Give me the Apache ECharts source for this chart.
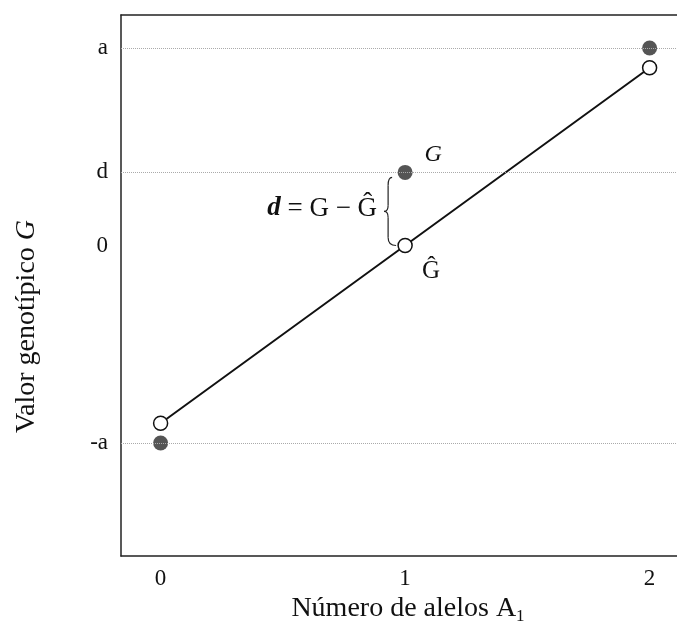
<!DOCTYPE html>
<html>
<head>
<meta charset="utf-8">
<script src="https://cdn.jsdelivr.net/npm/echarts@6/dist/echarts.min.js"></script>
<style>
  html, body { margin: 0; padding: 0; background: #fff; }
  #main { width: 677px; height: 622px; }
</style>
</head>
<body>
<div id="main"></div>
<script>
// valores en unidades de a (a = 1)
var xTicks = [0, 1, 2];
var yTickValues = [1, 0.37, 0, -1];
var yTickLabels = ['a', 'd', '0', '-a'];
var refLines = [1, 0.37, -1];
// valor genotípico G (puntos llenos)
var valorG = [[0, -1], [1, 0.37], [2, 1]];
// valor predicho G^ (puntos vacíos, recta de regresión)
var valorGhat = [[0, -0.9], [1, 0], [2, 0.9]];

var serif = '"Liberation Serif", "DejaVu Serif", serif';

function initchart() {
    var myChart = echarts.init(document.getElementById('main'));

    var option = {
        backgroundColor: '#fff',
        animation: false,
        grid: { left: 121, top: 15, bottom: 66, right: 0, outerBoundsMode: 'none', containLabel: false },
        xAxis: [{
            type: 'value',
            min: -0.162, max: 2.112,
            name: '{n|Número de alelos A}{s|1}',
            nameLocation: 'middle',
            nameGap: 35,
            nameTextStyle: {
                padding: [0, 0, 0, 18],
                rich: {
                    n: { fontFamily: serif, fontSize: 28, color: '#111', lineHeight: 32 },
                    s: { fontFamily: serif, fontSize: 17, color: '#111', lineHeight: 17, verticalAlign: 'bottom' }
                }
            },
            axisLine: { show: true, onZero: false, lineStyle: { color: '#222', width: 1.5 } },
            axisTick: { show: false },
            splitLine: { show: false },
            axisLabel: {
                customValues: xTicks,
                margin: 11,
                fontFamily: serif, fontSize: 23, color: '#111'
            }
        }, {
            // borde superior del recuadro
            type: 'value',
            position: 'top',
            min: -0.162, max: 2.112,
            axisLine: { show: true, onZero: false, lineStyle: { color: '#222', width: 1.5 } },
            axisTick: { show: false },
            axisLabel: { show: false },
            splitLine: { show: false }
        }],
        yAxis: {
            type: 'value',
            min: -1.572, max: 1.167,
            name: '{n|Valor genotípico }{i|G}',
            nameLocation: 'middle',
            nameGap: 80,
            nameTextStyle: {
                padding: [0, 82, 0, 0],
                rich: {
                    n: { fontFamily: serif, fontSize: 28, color: '#111' },
                    i: { fontFamily: serif, fontSize: 28, fontStyle: 'italic', color: '#111' }
                }
            },
            axisLine: { show: true, onZero: false, lineStyle: { color: '#222', width: 1.5 } },
            axisTick: { show: false },
            splitLine: { show: false },
            axisLabel: {
                customValues: yTickValues,
                margin: 13,
                fontFamily: serif, fontSize: 23, color: '#111',
                formatter: function (v) {
                    var i = yTickValues.indexOf(v);
                    return i >= 0 ? yTickLabels[i] : '';
                }
            }
        },
        series: [
            {
                name: 'G',
                type: 'scatter',
                data: valorG,
                symbolSize: 15,
                itemStyle: { color: '#2b2b2b' },
                z: 3,
                markLine: {
                    silent: true,
                    symbol: 'none',
                    label: { show: false },
                    lineStyle: { color: '#aaa', type: 'dotted', width: 1 },
                    data: refLines.map(function (v) { return { yAxis: v }; })
                }
            },
            {
                name: 'Ghat',
                type: 'line',
                data: valorGhat,
                symbol: 'circle',
                symbolSize: 14,
                lineStyle: { color: '#111', width: 2 },
                itemStyle: { color: '#fff', borderColor: '#111', borderWidth: 1.5 },
                z: 4
            }
        ]
    };
    myChart.setOption(option);

    // anotaciones: d = G - G^ y la llave
    var pG = myChart.convertToPixel({ xAxisIndex: 0, yAxisIndex: 0 }, valorG[1]);
    var pH = myChart.convertToPixel({ xAxisIndex: 0, yAxisIndex: 0 }, valorGhat[1]);
    var yt = pG[1] + 5, yb = pH[1], ym = (yt + yb) / 2;
    var xr = pG[0] - 13, xc = pG[0] - 17, xl = pG[0] - 21;
    var braceStyle = { fill: 'none', stroke: '#222', lineWidth: 1.2 };

    function curve(x1, y1, cx, cy, x2, y2) {
        return { type: 'bezierCurve', shape: { x1: x1, y1: y1, x2: x2, y2: y2, cpx1: cx, cpy1: cy }, style: braceStyle, z: 10 };
    }
    function seg(x1, y1, x2, y2) {
        return { type: 'line', shape: { x1: x1, y1: y1, x2: x2, y2: y2 }, style: braceStyle, z: 10 };
    }

    var graphics = [
        curve(xr, yt, xc, yt, xc, yt + 8),
        seg(xc, yt + 8, xc, ym - 6),
        curve(xc, ym - 6, xc, ym, xl, ym),
        curve(xl, ym, xc, ym, xc, ym + 6),
        seg(xc, ym + 6, xc, yb - 8),
        curve(xc, yb - 8, xc, yb, xr + 4, yb),
        {
            type: 'text',
            x: xl - 7, y: ym - 3,
            style: {
                text: '{i|d}{n| = G − Ĝ}',
                align: 'right', verticalAlign: 'middle',
                rich: {
                    i: { fontFamily: serif, fontSize: 27, fontStyle: 'italic', fontWeight: 'bold', fill: '#111' },
                    n: { fontFamily: serif, fontSize: 27, fill: '#111' }
                }
            },
            z: 10
        },
        {
            type: 'text',
            x: pG[0] + 28, y: pG[1] - 18,
            style: { text: 'G', fontFamily: serif, fontSize: 24, fontStyle: 'italic', fill: '#111', align: 'center', verticalAlign: 'middle' },
            z: 10
        },
        {
            type: 'text',
            x: pH[0] + 26, y: pH[1] + 26,
            style: { text: 'Ĝ', fontFamily: serif, fontSize: 25, fill: '#111', align: 'center', verticalAlign: 'middle' },
            z: 10
        }
    ];

    myChart.setOption({ graphic: graphics });
}

initchart();
</script>
</body>
</html>
